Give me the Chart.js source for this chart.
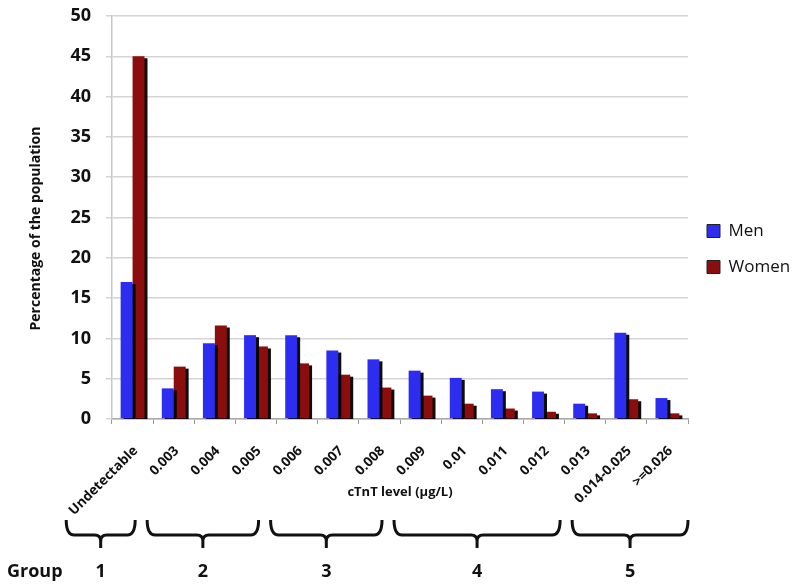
<!DOCTYPE html>
<html>
<head>
<meta charset="utf-8">
<script src="https://cdn.jsdelivr.net/npm/chart.js@4.4.1/dist/chart.umd.min.js"></script>
<style>
  html, body { margin: 0; padding: 0; background: #fff; }
  #wrap { width: 800px; height: 588px; position: relative; }
</style>
</head>
<body>
<div id="wrap"><canvas id="chart"></canvas></div>
<script>
// data
const categories = ['Undetectable', '0.003', '0.004', '0.005', '0.006', '0.007', '0.008',
    '0.009', '0.01', '0.011', '0.012', '0.013', '0.014-0.025', '>=0.026'];
const men = [17.0, 3.8, 9.4, 10.4, 10.4, 8.5, 7.4, 6.0, 5.1, 3.7, 3.4, 1.9, 10.7, 2.6];
const women = [45.0, 6.5, 11.6, 9.0, 6.9, 5.5, 3.9, 2.9, 1.9, 1.3, 0.9, 0.7, 2.45, 0.7];

// groups under the axis: first and last category of each
const groupNames = ['1', '2', '3', '4', '5'];
const groupFirst = [0, 1, 4, 7, 12];
const groupLast = [0, 3, 6, 11, 13];

const yTicks = [0, 5, 10, 15, 20, 25, 30, 35, 40, 45, 50];

const TICK_FONT = 'bold 13.5px "Open Sans"';

// dark drop shadow on the bars
const barShadow = {
    id: 'barShadow',
    beforeDatasetsDraw(chart) {
        const ctx = chart.ctx;
        ctx.save();
        ctx.shadowColor = 'rgba(0,0,0,0.95)';
        ctx.shadowOffsetX = 3;
        ctx.shadowOffsetY = 2;
        ctx.shadowBlur = 0;
    },
    afterDatasetsDraw(chart) {
        chart.ctx.restore();
    }
};

// axis titles, braces and group numbers
const notes = {
    id: 'notes',
    afterDraw(chart) {
        const ctx = chart.ctx;
        const x = chart.scales.x;
        const area = chart.chartArea;
        ctx.save();
        ctx.fillStyle = '#111';
        ctx.textAlign = 'center';
        ctx.textBaseline = 'middle';

        // y title
        ctx.save();
        ctx.font = 'bold 14px "Open Sans"';
        ctx.translate(36, (area.top + area.bottom) / 2 + 11);
        ctx.rotate(-Math.PI / 2);
        ctx.fillText('Percentage of the population', 0, 0);
        ctx.restore();

        // x title, sits between the rotated labels
        ctx.font = 'bold 13px "Open Sans"';
        ctx.fillText('cTnT level (µg/L)', (area.left + area.right) / 2, area.bottom + 73);

        ctx.font = TICK_FONT;
        const lefts = groupFirst.map(i => x.getPixelForValue(i) - ctx.measureText(categories[i]).width * 0.707 - 2);
        const step = x.getPixelForValue(1) - x.getPixelForValue(0);
        const top = area.bottom + 101, mid = area.bottom + 116, tip = area.bottom + 129;

        ctx.strokeStyle = '#111';
        ctx.lineWidth = 3;
        ctx.font = 'bold 18px "Open Sans"';
        groupNames.forEach((name, g) => {
            const l = lefts[g];
            const r = g < groupNames.length - 1 ? lefts[g + 1] - 12 : x.getPixelForValue(groupLast[g]) + step / 2;
            const c = (l + r) / 2;
            ctx.beginPath();
            ctx.moveTo(l, top);
            ctx.quadraticCurveTo(l, mid, l + 8, mid);
            ctx.lineTo(c - 6, mid);
            ctx.quadraticCurveTo(c, mid, c, mid + 6);
            ctx.lineTo(c, tip);
            ctx.moveTo(c, mid + 6);
            ctx.quadraticCurveTo(c, mid, c + 6, mid);
            ctx.lineTo(r - 8, mid);
            ctx.quadraticCurveTo(r, mid, r, top);
            ctx.stroke();
            ctx.fillText(name, c, area.bottom + 153);
        });
        ctx.textAlign = 'left';
        ctx.fillText('Group', 7, area.bottom + 153);
        ctx.restore();
    }
};

Chart.defaults.font.family = '"Open Sans", sans-serif';
Chart.defaults.color = '#111';

new Chart(document.getElementById('chart'), {
    type: 'bar',
    data: {
        labels: categories,
        datasets: [
            { label: 'Men', data: men, backgroundColor: '#2d2df2', borderWidth: 0 },
            { label: 'Women', data: women, backgroundColor: '#8c0d0d', borderWidth: 0 }
        ]
    },
    options: {
        responsive: true,
        maintainAspectRatio: false,
        animation: false,
        layout: { padding: { top: -29, right: 0, bottom: 61, left: 0 } },
        datasets: { bar: { categoryPercentage: 0.58, barPercentage: 1.0 } },
        plugins: {
            legend: {
                position: 'right',
                maxWidth: 112,
                labels: {
                    boxWidth: 13,
                    boxHeight: 13,
                    padding: 19,
                    color: '#111',
                    font: { size: 17 },
                    generateLabels(chart) {
                        const items = Chart.defaults.plugins.legend.labels.generateLabels(chart);
                        items.forEach(it => { it.strokeStyle = '#222'; it.lineWidth = 1; });
                        return items;
                    }
                }
            },
            tooltip: { enabled: false }
        },
        scales: {
            x: {
                afterFit(s) { s.height = 108; },
                grid: { drawOnChartArea: false, drawTicks: true, tickLength: 5, color: '#999' },
                border: { color: '#aaa', width: 1.5 },
                ticks: {
                    minRotation: 45,
                    maxRotation: 45,
                    padding: 19,
                    labelOffset: 3,
                    color: '#111',
                    font: { size: 13.5, weight: 'bold' }
                }
            },
            y: {
                min: 0,
                max: 50,
                afterFit(s) { s.width = 112; s.paddingTop = 16; },
                afterBuildTicks(s) { s.ticks = yTicks.map(v => ({ value: v })); },
                grid: { color: '#d4d4d4', lineWidth: 1.5, tickLength: 6 },
                border: { color: '#c8c8c8', width: 1.5 },
                ticks: { padding: 15, color: '#111', font: { size: 18, weight: 'bold' } },
                title: { display: false }
            }
        }
    },
    plugins: [barShadow, notes]
});
</script>
</body>
</html>
